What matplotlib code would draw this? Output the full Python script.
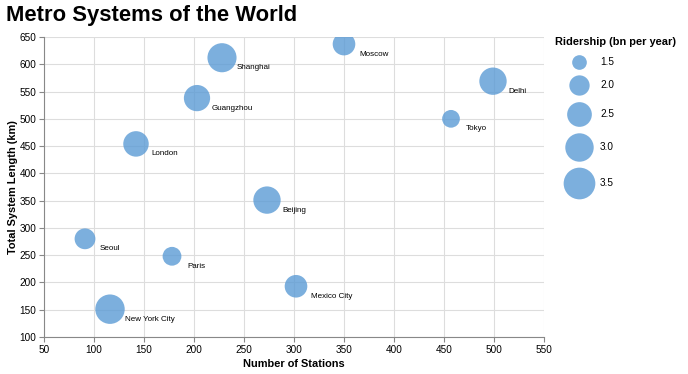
import numpy as np
import matplotlib
matplotlib.use("Agg")
import matplotlib.pyplot as plt

# data
cities = ["Shanghai", "Guangzhou", "Moscow", "Delhi", "Tokyo", "London",
          "Beijing", "Seoul", "Paris", "Mexico City", "New York City"]
stations = [228, 203, 350, 499, 457, 142, 273, 91, 178, 302, 116]
length_km = [612, 538, 637, 569, 500, 454, 351, 280, 248, 193, 151]
ridership = [3.1, 2.7, 2.25, 2.85, 1.75, 2.6, 2.85, 2.05, 1.85, 2.25, 3.15]
legend_vals = [1.5, 2.0, 2.5, 3.0, 3.5]

plt.rcParams["font.family"] = ["Liberation Sans", "DejaVu Sans"]
PX = 0.72  # points per pixel at dpi 100
COLOR = "#5b9bd5"


def diam_px(v):
    area = 169 + 310 * (v - 1.5)
    return np.sqrt(4 * area / np.pi)


def size_pt2(v):
    return (diam_px(np.asarray(v)) * PX) ** 2


fig = plt.figure(figsize=(6.88, 3.74), dpi=100)
ax = fig.add_axes([44 / 688, 37 / 374, 500 / 688, 300 / 374])

ax.scatter(stations, length_km, s=size_pt2(ridership), color=COLOR,
           alpha=0.8, linewidths=0, zorder=3)
for c, x, y in zip(cities, stations, length_km):
    ax.annotate(c, (x, y), xytext=(15 * PX, -10 * PX), textcoords="offset points",
                fontsize=8 * PX, va="center", ha="left", color="#000", zorder=4)

ax.set_xlim(50, 550)
ax.set_ylim(100, 650)
ax.set_xticks(np.arange(50, 551, 50))
ax.set_yticks(np.arange(100, 651, 50))
ax.grid(True, color="#dddddd", linewidth=0.8, zorder=0)
ax.set_axisbelow(True)
for s in ["top", "right"]:
    ax.spines[s].set_visible(False)
for s in ["left", "bottom"]:
    ax.spines[s].set_color("#888888")
    ax.spines[s].set_linewidth(0.8)
ax.tick_params(colors="#888888", length=5 * PX, width=0.8, labelsize=10 * PX,
               labelcolor="#000", pad=2)
ax.set_xlabel("Number of Stations", fontsize=11 * PX, fontweight="bold", labelpad=3)
ax.set_ylabel("Total System Length (km)", fontsize=11 * PX, fontweight="bold", labelpad=1)

fig.text(6 / 688, 1 - 16 / 374, "Metro Systems of the World", fontsize=22 * PX,
         fontweight="bold", va="center", ha="left")

# size legend, drawn in pixel coordinates
lax = fig.add_axes([0, 0, 1, 1])
lax.set_xlim(0, 688)
lax.set_ylim(374, 0)
lax.axis("off")
lax.text(555, 42, "Ridership (bn per year)", fontsize=11 * PX, fontweight="bold",
         va="center", ha="left")
y = 62
prev_r = None
for v in legend_vals:
    r = diam_px(v) / 2
    if prev_r is not None:
        y += prev_r + r + 6
    lax.scatter([579], [y], s=size_pt2(v), color=COLOR, alpha=0.8, linewidths=0)
    lax.text(600, y, f"{v:.1f}", fontsize=10 * PX, va="center", ha="left")
    prev_r = r

fig.savefig("out.png", dpi=100)
